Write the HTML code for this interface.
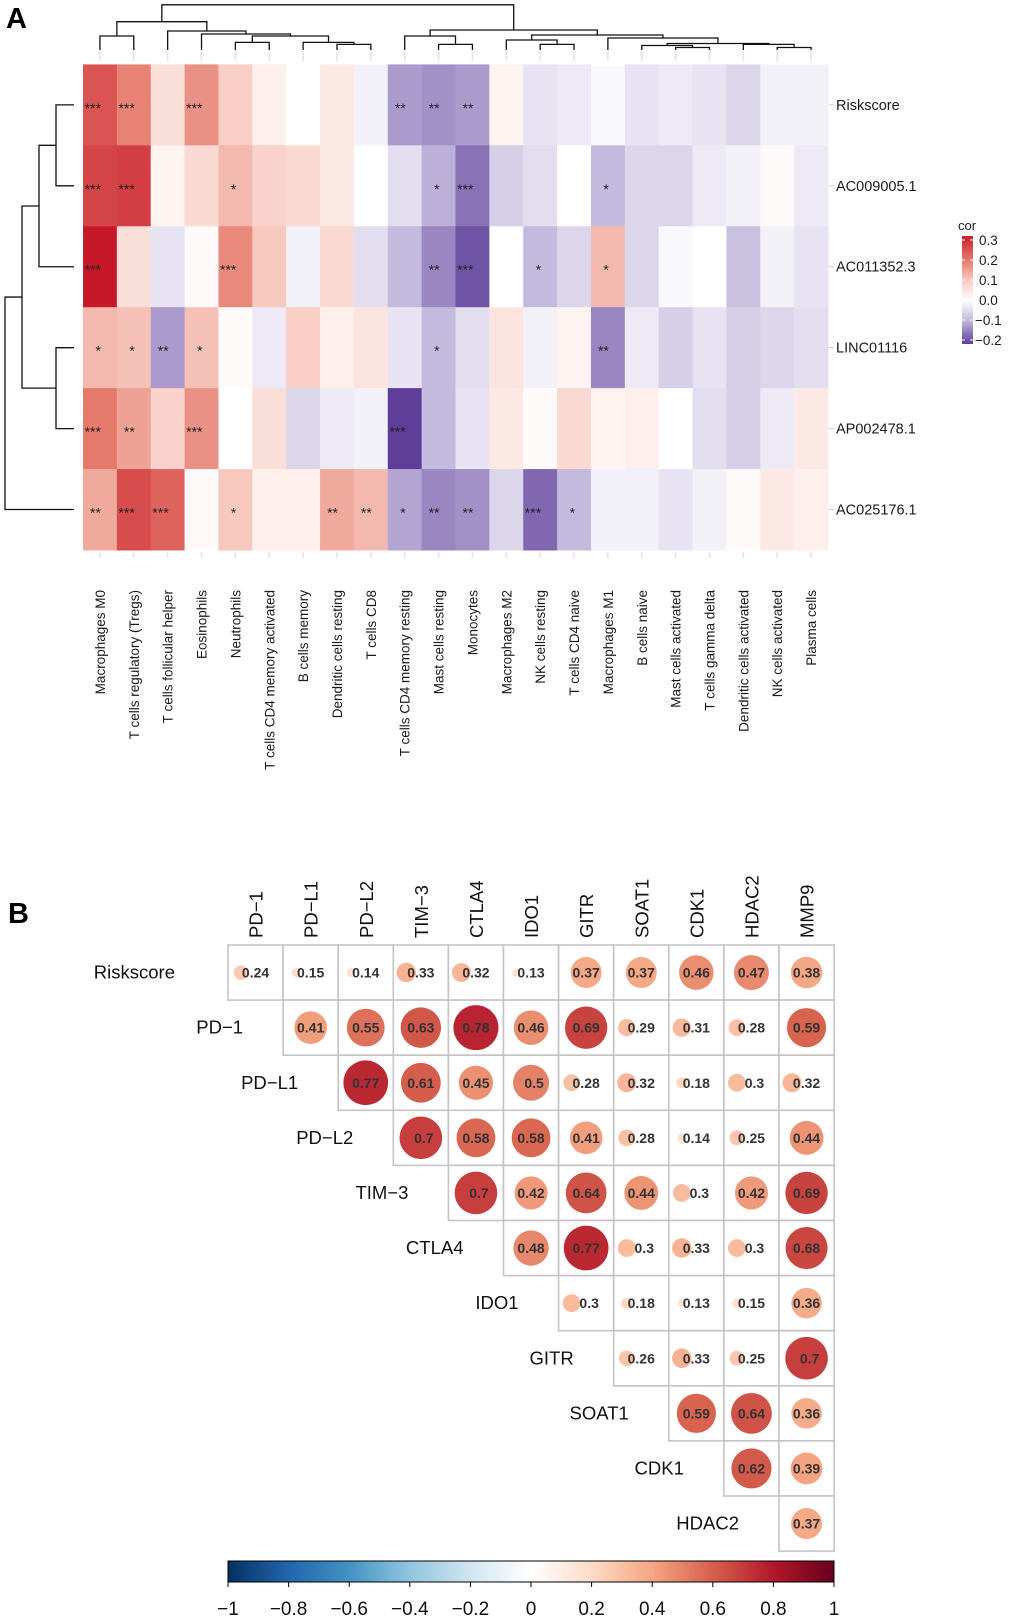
<!DOCTYPE html>
<html><head><meta charset="utf-8">
<style>
html,body{margin:0;padding:0;background:#fff;}
svg{display:block;font-family:"Liberation Sans",Arial,sans-serif;}
</style></head>
<body>
<svg id="fig" width="1020" height="1620" viewBox="0 0 1020 1620" xmlns="http://www.w3.org/2000/svg">
<text x="6" y="28" font-size="29" font-weight="bold" fill="#000">A</text>
<text x="8" y="923" font-size="29" font-weight="bold" fill="#000">B</text>
<g id="pa"></g>
<g id="pb"></g>
</svg>
<script>
// ===== Panel A data =====
const cellTypes = ["Macrophages M0","T cells regulatory (Tregs)","T cells follicular helper","Eosinophils","Neutrophils","T cells CD4 memory activated","B cells memory","Dendritic cells resting","T cells CD8","T cells CD4 memory resting","Mast cells resting","Monocytes","Macrophages M2","NK cells resting","T cells CD4 naive","Macrophages M1","B cells naive","Mast cells activated","T cells gamma delta","Dendritic cells activated","NK cells activated","Plasma cells"];
const genes = ["Riskscore","AC009005.1","AC011352.3","LINC01116","AP002478.1","AC025176.1"];
const corRiskscore = [0.25,0.19,0.06,0.17,0.09,0.03,0.0,0.04,-0.02,-0.13,-0.14,-0.13,0.02,-0.04,-0.03,-0.01,-0.04,-0.03,-0.04,-0.06,-0.02,-0.02];
const corAC009005 = [0.27,0.28,0.02,0.07,0.12,0.08,0.07,0.04,0.0,-0.05,-0.11,-0.17,-0.07,-0.05,0.0,-0.10,-0.06,-0.06,-0.03,-0.02,0.01,-0.03];
const corAC011352 = [0.33,0.06,-0.04,0.01,0.18,0.10,-0.02,0.07,-0.05,-0.1,-0.15,-0.2,0.0,-0.1,-0.06,0.12,-0.06,-0.01,0.0,-0.09,-0.02,-0.04];
const corLINC01116 = [0.12,0.11,-0.13,0.11,0.01,-0.03,0.09,0.03,0.05,-0.04,-0.1,-0.05,0.05,-0.02,0.02,-0.15,-0.03,-0.07,-0.04,-0.07,-0.06,-0.05];
const corAP002478 = [0.2,0.15,0.08,0.17,0.0,0.06,-0.06,-0.03,-0.02,-0.23,-0.1,-0.04,0.04,0.01,0.07,0.02,0.03,0.0,-0.05,-0.07,-0.03,0.04];
const corAC025176 = [0.14,0.26,0.23,0.01,0.1,0.03,0.03,0.14,0.12,-0.12,-0.15,-0.14,-0.06,-0.18,-0.1,-0.02,-0.02,-0.04,-0.02,0.01,0.04,0.03];
const sigRiskscore = ["***","***","","***","","","","","","**","**","**","","","","","","","","","",""];
const sigAC009005 = ["***","***","","","*","","","","","","*","***","","","","*","","","","","",""];
const sigAC011352 = ["***","","","","***","","","","","","**","***","","*","","*","","","","","",""];
const sigLINC01116 = ["*","*","**","*","","","","","","","*","","","","","**","","","","","",""];
const sigAP002478 = ["***","**","","***","","","","","","***","","","","","","","","","","","",""];
const sigAC025176 = ["**","***","***","","*","","","**","**","*","**","**","","***","*","","","","","","",""];
const legendTicks = [0.3,0.2,0.1,0.0,-0.1,-0.2];

// ===== Panel B data =====
const markers = ["PD\u22121","PD\u2212L1","PD\u2212L2","TIM\u22123","CTLA4","IDO1","GITR","SOAT1","CDK1","HDAC2","MMP9"];
const rowNames = ["Riskscore","PD\u22121","PD\u2212L1","PD\u2212L2","TIM\u22123","CTLA4","IDO1","GITR","SOAT1","CDK1","HDAC2"];
const rRiskscore = [0.24,0.15,0.14,0.33,0.32,0.13,0.37,0.37,0.46,0.47,0.38];
const rPD1 = [0.41,0.55,0.63,0.78,0.46,0.69,0.29,0.31,0.28,0.59];
const rPDL1 = [0.77,0.61,0.45,0.5,0.28,0.32,0.18,0.3,0.32];
const rPDL2 = [0.7,0.58,0.58,0.41,0.28,0.14,0.25,0.44];
const rTIM3 = [0.7,0.42,0.64,0.44,0.3,0.42,0.69];
const rCTLA4 = [0.48,0.77,0.3,0.33,0.3,0.68];
const rIDO1 = [0.3,0.18,0.13,0.15,0.36];
const rGITR = [0.26,0.33,0.25,0.7];
const rSOAT1 = [0.59,0.64,0.36];
const rCDK1 = [0.62,0.39];
const rHDAC2 = [0.37];
const barTicks = ["\u22121","\u22120.8","\u22120.6","\u22120.4","\u22120.2","0","0.2","0.4","0.6","0.8","1"];

const NS="http://www.w3.org/2000/svg";
function mk(tag,attrs,parent,txt){const e=document.createElementNS(NS,tag);for(const k in attrs)e.setAttribute(k,attrs[k]);if(txt!==undefined)e.textContent=txt;parent.appendChild(e);return e;}
function lerp(a,b,t){return [0,1,2].map(i=>Math.round(a[i]+(b[i]-a[i])*t));}
function ramp(stops,v){
 if(v<=stops[0][0])return stops[0][1];
 for(let i=1;i<stops.length;i++){if(v<=stops[i][0]){const t=(v-stops[i-1][0])/(stops[i][0]-stops[i-1][0]);return lerp(stops[i-1][1],stops[i][1],t);}}
 return stops[stops.length-1][1];}
const heatStops=[[-0.22,[94,62,152]],[-0.1,[196,186,222]],[0,[255,255,255]],[0.1,[247,200,190]],[0.2,[229,122,108]],[0.33,[198,24,40]]];
const rdbuStops=[[-1,[5,48,97]],[-0.8,[33,102,172]],[-0.6,[67,147,195]],[-0.4,[146,197,222]],[-0.2,[209,229,240]],[0,[255,255,255]],[0.2,[253,219,199]],[0.4,[244,165,130]],[0.6,[214,96,77]],[0.8,[178,24,43]],[1,[103,0,31]]];
function rgb(c){return "rgb("+c.join(",")+")";}

// ===== Panel A =====
const pa=document.getElementById("pa");
const hx0=83,hx1=828,hy0=64.4,hy1=550;
const cw=(hx1-hx0)/cellTypes.length, rh=(hy1-hy0)/genes.length;
const xC=i=>hx0+(i+0.5)*cw, yR=j=>hy0+(j+0.5)*rh;
const corRows=[corRiskscore,corAC009005,corAC011352,corLINC01116,corAP002478,corAC025176];
const sigRows=[sigRiskscore,sigAC009005,sigAC011352,sigLINC01116,sigAP002478,sigAC025176];
corRows.forEach((row,j)=>{row.forEach((v,i)=>{
 const r=mk("rect",{x:hx0+i*cw,y:hy0+j*rh,width:cw+0.5,height:rh+0.5,fill:rgb(ramp(heatStops,v))},pa);
 
 
 const s=sigRows[j][i];
 if(s){const t=mk("text",{x:xC(i)+1,y:yR(j)+8,"font-size":14,"text-anchor":"end",fill:"#222"},pa,s);
 
 }
});});
cellTypes.forEach((c,i)=>{
 mk("line",{x1:xC(i),x2:xC(i),y1:51,y2:61,stroke:"#e3e3e3","stroke-width":1.5},pa);
 mk("line",{x1:xC(i),x2:xC(i),y1:552,y2:558,stroke:"#e3e3e3","stroke-width":1.5},pa);
 const t=mk("text",{transform:`translate(${xC(i)+5},590) rotate(-90)`,"font-size":13.5,"text-anchor":"end",fill:"#1a1a1a"},pa,c);
 
 
});
genes.forEach((g,j)=>{
 mk("line",{x1:829,x2:834,y1:yR(j),y2:yR(j),stroke:"#ccc"},pa);
 const t=mk("text",{x:836,y:yR(j)+5,"font-size":14.5,fill:"#1a1a1a"},pa,g);
 
 
});
const colMerges=[["n0",0,1,36],["nA",4,5,42.4],["nB",7,8,44.4],["nC",6,"nB",42.4],["nD","nA","nC",36],["nE",3,"nD",34],["nF",2,"nE",31],["nG","n0","nF",21.7],
["n1",10,11,44.4],["n2",9,"n1",36],["n3",13,14,44.4],["n4",12,"n3",40],["n5",17,18,47.5],["n6",16,"n5",45.5],["n7",20,21,47.5],["n8",19,"n7",44.4],["n9","n6","n8",43.5],["n10",15,"n9",38],["n11","n4","n10",35],["n12","n2","n11",30],["root","nG","n12",4.8]];
function dendro(merges,leafPos,leafEdge,horiz,name){
 const pos={},h={};
 const P=k=>typeof k==="number"?leafPos(k):pos[k];
 const H=k=>typeof k==="number"?leafEdge:h[k];
 let d="";
 merges.forEach(([id,a,b,hh])=>{
  const pa_=P(a),pb_=P(b),ha=H(a),hb=H(b);
  if(horiz) d+=`M${pa_},${ha}V${hh}H${pb_}V${hb}`;
  else d+=`M${ha},${pa_}H${hh}V${pb_}H${hb}`;
  pos[id]=(pa_+pb_)/2;h[id]=hh;});
 const p=mk("path",{d:d,fill:"none",stroke:"#111","stroke-width":1.3},pa);
 
 
}
dendro(colMerges,xC,50,true,"column-dendrogram");
const rowMerges=[["r0",0,1,56],["r1","r0",2,39],["r2",3,4,56],["r3","r1","r2",22],["r4","r3",5,5]];
dendro(rowMerges,yR,74,false,"row-dendrogram");
const lgTop=236,lgBot=344,lgMax=0.32,lgMin=-0.22;
const grad=mk("linearGradient",{id:"lg",x1:0,y1:0,x2:0,y2:1},mk("defs",{},document.getElementById("fig")));
for(let k=0;k<=20;k++){const v=lgMax-(lgMax-lgMin)*k/20;mk("stop",{offset:k/20,"stop-color":rgb(ramp(heatStops,v))},grad);}
const lgr=mk("rect",{x:962,y:lgTop,width:11,height:lgBot-lgTop,fill:"url(#lg)"},pa);


const lt=mk("text",{x:958,y:230,"font-size":13,fill:"#1a1a1a"},pa,"cor");


const ly=v=>lgTop+(lgMax-v)/(lgMax-lgMin)*(lgBot-lgTop);
legendTicks.forEach(v=>{
 mk("line",{x1:962,x2:965,y1:ly(v),y2:ly(v),stroke:"#fff"},pa);
 mk("line",{x1:970,x2:973,y1:ly(v),y2:ly(v),stroke:"#fff"},pa);
 const t=mk("text",{x:v<0?975:979,y:ly(v)+5,"font-size":13.5,fill:"#1a1a1a"},pa,(v<0?"\u2212":"")+Math.abs(v).toFixed(1));
 
 
});

// ===== Panel B =====
const pb=document.getElementById("pb");
const gx0=228,gy0=945,cs=55.1;
const rRows=[rRiskscore,rPD1,rPDL1,rPDL2,rTIM3,rCTLA4,rIDO1,rGITR,rSOAT1,rCDK1,rHDAC2];
markers.forEach((m,i)=>{
 const t=mk("text",{transform:`translate(${gx0+(i+0.5)*cs+7},938) rotate(-90)`,"font-size":18.5,fill:"#111"},pb,m);
 
 
});
rRows.forEach((row,r)=>{
 const start=r; const y=gy0+r*cs;
 const off=r===0?53:40;
 const t=mk("text",{x:gx0+start*cs-off,y:y+cs/2+6,"font-size":18.5,"text-anchor":"end",fill:"#111"},pb,rowNames[r]);
 
 
 row.forEach((v,k)=>{
  const c=start+k, x=gx0+c*cs;
  const cell=mk("rect",{x:x,y:y,width:cs,height:cs,fill:"#fff",stroke:"#c4c4c4","stroke-width":1.6},pb);
  
  
  const big=v>=0.35;
  const rad=big?25.5*Math.sqrt(v):28*v+0.5;
  const cx=big?x+cs/2:x+13;
  const ci=mk("circle",{cx:cx,cy:y+cs/2,r:rad,fill:rgb(ramp(rdbuStops,v*0.93+0.04))},pb);
  
  
  const lab=String(Math.round(v*100)/100);
  const tt=mk("text",{x:x+cs/2+(lab.length<4?3:0),y:y+cs/2+5,"font-size":14,"font-weight":"bold","text-anchor":"middle",fill:"#333"},pb,lab);
  
  
 });
});
const bx0=228,bx1=834,by0=1561,by1=1582;
const g2=mk("linearGradient",{id:"cb",x1:0,y1:0,x2:1,y2:0},document.querySelector("defs"));
rdbuStops.forEach(([v,c])=>mk("stop",{offset:(v+1)/2,"stop-color":rgb(c)},g2));
const cb=mk("rect",{x:bx0,y:by0,width:bx1-bx0,height:by1-by0,fill:"url(#cb)",stroke:"#000","stroke-width":1},pb);


barTicks.forEach((s,i)=>{
 const x=bx0+(bx1-bx0)*i/(barTicks.length-1);
 mk("line",{x1:x,x2:x,y1:by1,y2:by1+5,stroke:"#000"},pb);
 const t=mk("text",{x:x,y:1615,"font-size":19,"text-anchor":"middle",fill:"#111"},pb,s);
 
 
});
</script>
</body></html>
